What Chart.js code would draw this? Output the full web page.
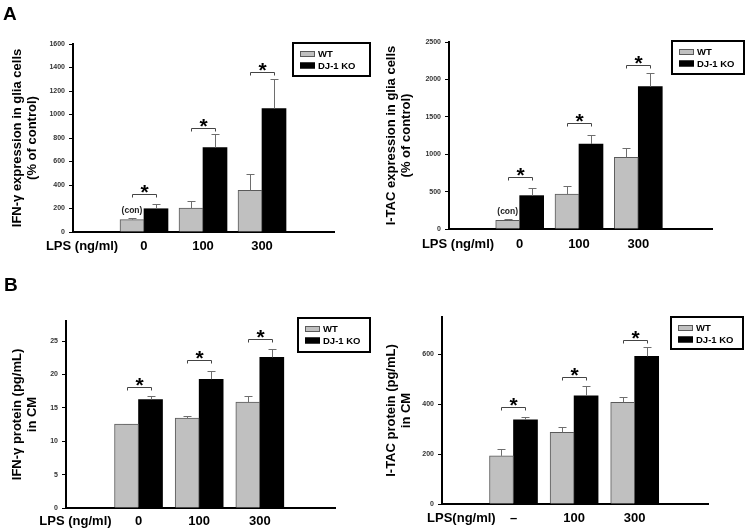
<!DOCTYPE html>
<html>
<head>
<meta charset="utf-8">
<script src="https://cdn.jsdelivr.net/npm/chart.js@4"></script>
<style>
  html, body { margin: 0; padding: 0; background: #fff; }
  body { width: 748px; height: 532px; position: relative; overflow: hidden; }
  canvas { position: absolute; }
</style>
</head>
<body>
<canvas id="cA1" width="374" height="270" style="left:0;top:0"></canvas>
<canvas id="cA2" width="374" height="270" style="left:374px;top:0"></canvas>
<canvas id="cB1" width="374" height="262" style="left:0;top:270px"></canvas>
<canvas id="cB2" width="374" height="262" style="left:374px;top:270px"></canvas>
<script>
// ---------- data ----------
const categories = ['0', '100', '300'];
const seriesNames = ['WT', 'DJ-1 KO'];

const xLabelsA  = ['LPS (ng/ml)', '0', '100', '300'];
const xLabelsB1 = ['LPS (ng/ml)', '0', '100', '300'];
const xLabelsB2 = ['LPS(ng/ml)', '–', '100', '300'];

// A (left): IFN-γ expression in glia cells (% of control)
const ifnExprWT    = [105, 204, 354];
const ifnExprWTErr = [13, 62, 138];
const ifnExprKO    = [198, 719, 1051];
const ifnExprKOErr = [42, 116, 250];
const ifnExprSig   = [323, 885, 1362];

// A (right): I-TAC expression in glia cells (% of control)
const itacExprWT    = [116, 468, 958];
const itacExprWTErr = [22, 102, 125];
const itacExprKO    = [446, 1136, 1903];
const itacExprKOErr = [98, 125, 183];
const itacExprSig   = [691, 1417, 2197];

// B (left): IFN-γ protein (pg/mL) in CM
const ifnProtWT    = [12.55, 13.47, 15.85];
const ifnProtWTErr = [0.1, 0.35, 0.85];
const ifnProtKO    = [16.25, 19.28, 22.56];
const ifnProtKOErr = [0.55, 1.22, 1.2];
const ifnProtSig   = [18.14, 22.1, 25.25];

// B (right): I-TAC protein (pg/mL) in CM
const itacProtWT    = [193, 287, 408];
const itacProtWTErr = [28, 20, 23];
const itacProtKO    = [338, 434, 592];
const itacProtKOErr = [10, 38, 36];
const itacProtSig   = [390, 508, 656];

// ---------- drawing ----------
const FONT = "'Liberation Sans', Arial, Helvetica, sans-serif";
const WT_FILL = '#c0c0c0', WT_EDGE = '#5a5a5a', KO_FILL = '#000000';

function annotPlugin(p) {
  return {
    id: 'annot',
    beforeDatasetsDraw(chart) {
      if (!p.con) return;
      const ctx = chart.ctx;
      const bar = chart.getDatasetMeta(0).data[0];
      ctx.save();
      ctx.fillStyle = '#222';
      ctx.font = 'bold 8.5px ' + FONT;
      ctx.textAlign = 'center';
      ctx.textBaseline = 'middle';
      ctx.fillText('(con)', bar.x, bar.y - 9);
      ctx.restore();
    },
    afterDatasetsDraw(chart) {
      const ctx = chart.ctx;
      const ys = chart.scales.y;
      ctx.save();
      // error bars (upper half only)
      ctx.strokeStyle = '#6e6e6e';
      ctx.lineWidth = 1;
      chart.data.datasets.forEach((ds, di) => {
        const meta = chart.getDatasetMeta(di);
        meta.data.forEach((bar, i) => {
          const x = Math.round(bar.x) + 0.5;
          const y0 = bar.y;
          const y1 = Math.round(ys.getPixelForValue(ds.data[i].y + ds.errors[i])) + 0.5;
          ctx.beginPath();
          ctx.moveTo(x, y0);
          ctx.lineTo(x, y1);
          ctx.moveTo(x - 4, y1);
          ctx.lineTo(x + 4, y1);
          ctx.stroke();
        });
      });
      // significance brackets + asterisks
      const wt = chart.getDatasetMeta(0).data;
      const ko = chart.getDatasetMeta(1).data;
      p.sig.forEach((v, i) => {
        const x1 = Math.round(wt[i].x) + 0.5, x2 = Math.round(ko[i].x) + 0.5;
        const y = Math.round(ys.getPixelForValue(v)) + 0.5;
        ctx.strokeStyle = '#444';
        ctx.lineWidth = 1;
        ctx.beginPath();
        ctx.moveTo(x1, y + 3);
        ctx.lineTo(x1, y);
        ctx.lineTo(x2, y);
        ctx.lineTo(x2, y + 3);
        ctx.stroke();
        ctx.fillStyle = '#000';
        ctx.font = 'bold 21px ' + FONT;
        ctx.textAlign = 'center';
        ctx.textBaseline = 'alphabetic';
        ctx.fillText('*', (x1 + x2) / 2, y - 7 + 0.56 * 21);
      });
      // legend box
      const L = p.legend;
      ctx.lineWidth = 2;
      ctx.strokeStyle = '#000';
      ctx.strokeRect(L.x, L.y, L.w, L.h);
      const items = [
        { label: chart.data.datasets[0].label, fill: WT_FILL, edge: WT_EDGE, cy: L.y + 11 },
        { label: chart.data.datasets[1].label, fill: KO_FILL, edge: KO_FILL, cy: L.y + 22.5 }
      ];
      items.forEach(it => {
        ctx.fillStyle = it.fill;
        ctx.fillRect(L.x + 7, it.cy - 3, 15, 6);
        ctx.lineWidth = 1;
        ctx.strokeStyle = it.edge;
        ctx.strokeRect(L.x + 7.5, it.cy - 2.5, 14, 5);
        ctx.fillStyle = '#000';
        ctx.font = 'bold 9.5px ' + FONT;
        ctx.textAlign = 'left';
        ctx.textBaseline = 'middle';
        ctx.fillText(it.label, L.x + 25, it.cy + 0.5);
      });
      // panel letter
      if (p.letter) {
        ctx.fillStyle = '#000';
        ctx.font = 'bold 19px ' + FONT;
        ctx.textAlign = 'left';
        ctx.textBaseline = 'alphabetic';
        ctx.fillText(p.letter, p.letterX, p.letterY);
      }
      ctx.restore();
    }
  };
}

function makePanel(id, p) {
  const tickPos = [p.lpsAt].concat(categories.map((c, i) => i + 1));
  new Chart(document.getElementById(id), {
    type: 'bar',
    data: {
      datasets: [
        { label: seriesNames[0], data: categories.map((c, i) => ({ x: i + 1, y: p.wt[i] })),
          errors: p.wtErr, backgroundColor: WT_FILL, borderColor: WT_EDGE, borderWidth: 1 },
        { label: seriesNames[1], data: categories.map((c, i) => ({ x: i + 1, y: p.ko[i] })),
          errors: p.koErr, backgroundColor: KO_FILL, borderColor: KO_FILL, borderWidth: 0 }
      ]
    },
    options: {
      responsive: false,
      animation: false,
      events: [],
      layout: { padding: { left: 0, top: p.T, right: p.R, bottom: 0 } },
      plugins: { legend: { display: false }, tooltip: { enabled: false }, title: { display: false } },
      datasets: { bar: { barThickness: 24 } },
      scales: {
        x: {
          type: 'linear', min: p.xmin, max: p.xmax, offset: false, bounds: 'data',
          afterBuildTicks: s => { s.ticks = tickPos.map(v => ({ value: v })); },
          afterFit: s => { s.height = p.H; },
          grid: { display: false, drawTicks: false },
          border: { display: true, color: '#000', width: 2 },
          ticks: {
            autoSkip: false, maxRotation: 0, minRotation: 0, padding: p.xpad, color: '#000',
            font: { family: FONT, size: 13, weight: 'bold' },
            callback: (v, i) => p.xLabels[i]
          }
        },
        y: {
          min: 0, max: p.ymax, bounds: 'data',
          afterBuildTicks: s => {
            s.ticks = s.ticks.filter(t => Math.abs(t.value / p.step - Math.round(t.value / p.step)) < 1e-6);
          },
          afterFit: s => { s.width = p.L; },
          ticks: { stepSize: p.step, padding: 4, color: '#333',
                   font: { family: FONT, size: 7, weight: 'bold' },
                   callback: v => String(v) },
          grid: { drawOnChartArea: false, drawTicks: true, tickLength: 4, color: '#000', lineWidth: 1 },
          border: { display: true, color: '#000', width: 2 },
          title: { display: true, text: p.yTitle, color: '#000',
                   font: { family: FONT, size: 13, weight: 'bold', lineHeight: 1.12 },
                   padding: { top: 10.5, bottom: 0 } }
        }
      }
    },
    plugins: [annotPlugin(p)]
  });
}

makePanel('cA1', {
  wt: ifnExprWT, wtErr: ifnExprWTErr, ko: ifnExprKO, koErr: ifnExprKOErr, sig: ifnExprSig,
  xLabels: xLabelsA, lpsAt: -0.05, xmin: -0.203, xmax: 4.22,
  ymax: 1600, step: 200,
  yTitle: ['IFN-γ expression in glia cells', '(% of control)'],
  L: 73, T: 44, R: 40, H: 38, xpad: 7,
  legend: { x: 293, y: 43, w: 77, h: 33 }, con: true,
  letter: 'A', letterX: 3, letterY: 20
});
makePanel('cA2', {
  wt: itacExprWT, wtErr: itacExprWTErr, ko: itacExprKO, koErr: itacExprKOErr, sig: itacExprSig,
  xLabels: xLabelsA, lpsAt: -0.04, xmin: -0.192, xmax: 4.243,
  ymax: 2500, step: 500,
  yTitle: ['I-TAC expression in glia cells', '(% of control)'],
  L: 75, T: 42, R: 36, H: 41, xpad: 8,
  legend: { x: 298, y: 41, w: 72, h: 33 }, con: true
});
makePanel('cB1', {
  wt: ifnProtWT, wtErr: ifnProtWTErr, ko: ifnProtKO, koErr: ifnProtKOErr, sig: ifnProtSig,
  xLabels: xLabelsB1, lpsAt: -0.04, xmin: -0.196, xmax: 4.24,
  ymax: 28, step: 5,
  yTitle: ['IFN-γ protein (pg/mL)', 'in CM'],
  L: 66, T: 51, R: 39, H: 24, xpad: 6,
  legend: { x: 298, y: 48, w: 72, h: 34 }, con: false,
  letter: 'B', letterX: 4, letterY: 21
});
makePanel('cB2', {
  wt: itacProtWT, wtErr: itacProtWTErr, ko: itacProtKO, koErr: itacProtKOErr, sig: itacProtSig,
  xLabels: xLabelsB2, lpsAt: 0.14, xmin: -0.18, xmax: 4.21,
  ymax: 750, step: 200,
  yTitle: ['I-TAC protein (pg/mL)', 'in CM'],
  L: 68, T: 47, R: 40, H: 28, xpad: 7,
  legend: { x: 297, y: 47, w: 72, h: 32 }, con: false
});
</script>
</body>
</html>
